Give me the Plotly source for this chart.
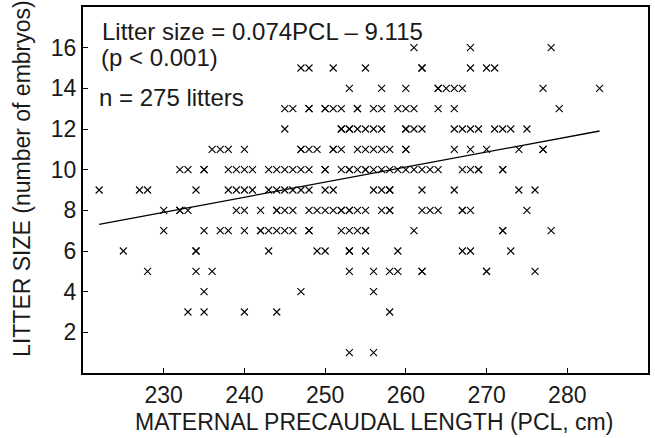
import plotly.graph_objects as go

# Maternal PCL (cm) of each litter, grouped by litter size (number of embryos)
pcl_n16 = [261, 268, 278]
pcl_n15 = [247, 248, 251, 255, 262, 262, 268, 270, 271]
pcl_n14 = [253, 257, 260, 264, 264, 265, 266, 267, 277, 284]
pcl_n13 = [245, 246, 248, 248, 250, 250, 251, 252, 254, 254, 256, 257, 259, 260, 261, 264, 266, 279]
pcl_n12 = [245, 252, 252, 253, 253, 254, 255, 256, 257, 260, 260, 261, 262, 266, 267, 268, 269, 271, 272, 273, 275]
pcl_n11 = [236, 237, 238, 240, 247, 247, 248, 249, 251, 251, 252, 254, 255, 256, 257, 258, 260, 260,
           266, 268, 270, 274, 277, 277]
pcl_n10 = [232, 233, 235, 235, 238, 239, 240, 241, 243, 244, 245, 246, 247, 248, 250, 250, 252, 253, 253,
           254, 255, 255, 256, 257, 258, 259, 260, 261, 262, 263, 264, 267, 268, 269, 269, 272, 272]
pcl_n9 = [222, 227, 228, 234, 238, 239, 240, 241, 243, 244, 245, 246, 247, 248, 250, 251, 256, 257, 258,
          258, 262, 266, 274, 276]
pcl_n8 = [230, 232, 232, 233, 239, 240, 242, 244, 244, 245, 246, 248, 249, 250, 251, 252, 252, 253, 253,
          254, 255, 257, 258, 258, 262, 263, 264, 267, 267, 268, 275]
pcl_n7 = [230, 235, 237, 238, 240, 242, 242, 243, 244, 245, 246, 248, 248, 252, 253, 254, 255, 255, 261,
          272, 272, 278]
pcl_n6 = [225, 234, 234, 243, 249, 250, 253, 253, 255, 259, 267, 268, 273]
pcl_n5 = [228, 234, 236, 253, 256, 258, 259, 262, 262, 270, 270, 276]
pcl_n4 = [235, 247, 256]
pcl_n3 = [233, 235, 240, 244, 258]
pcl_n1 = [253, 256]

litter_sizes = [16, 15, 14, 13, 12, 11, 10, 9, 8, 7, 6, 5, 4, 3, 1]
pcl_groups = [pcl_n16, pcl_n15, pcl_n14, pcl_n13, pcl_n12, pcl_n11, pcl_n10, pcl_n9,
              pcl_n8, pcl_n7, pcl_n6, pcl_n5, pcl_n4, pcl_n3, pcl_n1]

# Regression stated on the chart
slope = 0.074
intercept = -9.115

x_ticks = [230, 240, 250, 260, 270, 280]
y_ticks = [2, 4, 6, 8, 10, 12, 14, 16]

pcl = []
size = []
for s, group in zip(litter_sizes, pcl_groups):
    pcl.extend(group)
    size.extend([s] * len(group))

line_x = [min(pcl), max(pcl)]
line_y = [slope * v + intercept for v in line_x]

FONT = "Liberation Sans, Arial, sans-serif"

fig = go.Figure()
fig.add_trace(go.Scatter(
    x=pcl, y=size, mode="markers",
    marker=dict(symbol="x-thin-open", size=7, color="black",
                line=dict(color="black", width=1.1)),
    showlegend=False, hoverinfo="x+y",
))
fig.add_trace(go.Scatter(
    x=line_x, y=line_y, mode="lines",
    line=dict(color="black", width=1.3),
    showlegend=False, hoverinfo="skip",
))

fig.update_layout(
    width=655, height=438,
    margin=dict(l=83, r=5, t=7, b=65),
    paper_bgcolor="white", plot_bgcolor="white",
    font=dict(family=FONT, size=23, color="#1a1a1a"),
    xaxis=dict(
        range=[220, 290], tickvals=x_ticks, ticks="inside", ticklen=5,
        tickwidth=1.2, tickcolor="black",
        showline=True, linecolor="black", linewidth=2, mirror=True,
        showgrid=False, zeroline=False,
        tickfont=dict(size=23),
    ),
    yaxis=dict(
        range=[0, 18], tickvals=y_ticks, ticks="inside", ticklen=5,
        tickwidth=1.2, tickcolor="black",
        showline=True, linecolor="black", linewidth=2, mirror=True,
        showgrid=False, zeroline=False,
        tickfont=dict(size=23),
    ),
    annotations=[
        dict(text="MATERNAL PRECAUDAL LENGTH (PCL, cm)", xref="paper", yref="paper",
             x=0.515, y=-0.134, xanchor="center", yanchor="middle", showarrow=False,
             font=dict(size=23)),
        dict(text="LITTER SIZE (number of embryos)", xref="paper", yref="paper",
             x=-0.108, y=0.533, xanchor="center", yanchor="middle", showarrow=False,
             textangle=-90, font=dict(size=23)),
        dict(text="Litter size = 0.074PCL \u2013 9.115", xref="paper", yref="paper",
             x=0.030, y=0.933, xanchor="left", yanchor="middle", showarrow=False,
             font=dict(size=24)),
        dict(text="(p < 0.001)", xref="paper", yref="paper",
             x=0.028, y=0.861, xanchor="left", yanchor="middle", showarrow=False,
             font=dict(size=24)),
        dict(text="n = 275 litters", xref="paper", yref="paper",
             x=0.024, y=0.754, xanchor="left", yanchor="middle", showarrow=False,
             font=dict(size=24)),
    ],
)

fig.write_html("out.html")
